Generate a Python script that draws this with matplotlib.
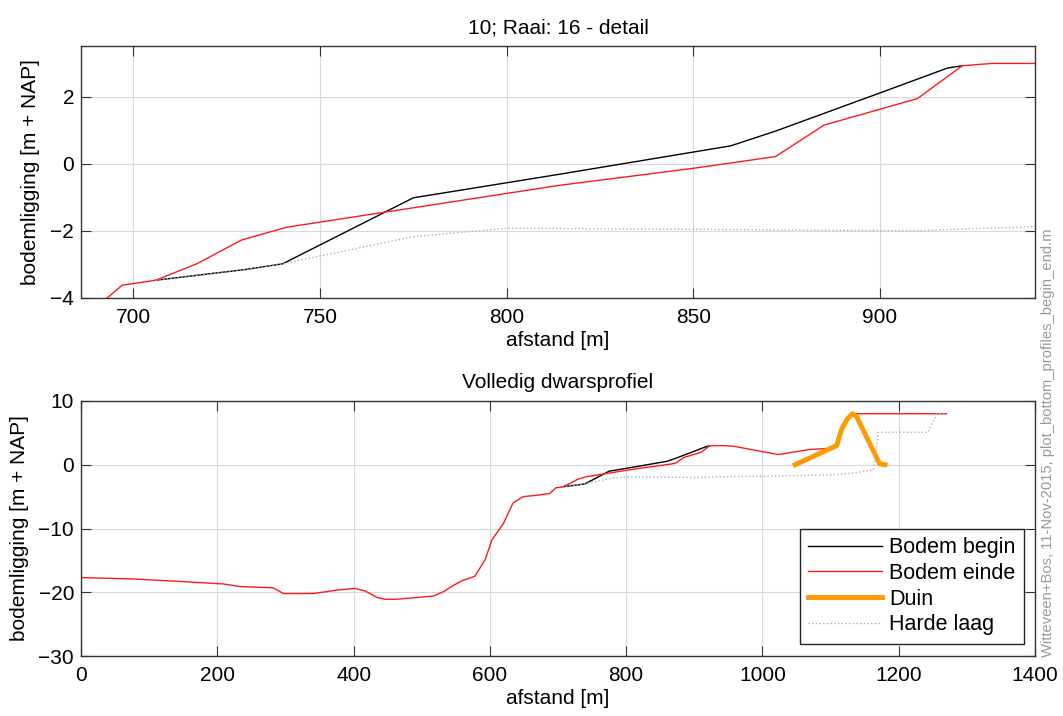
import numpy as np
import matplotlib.pyplot as plt

# Bodem begin (zwart)
begin_x = [706, 730, 740, 775, 814, 860, 872, 900, 918, 922]
begin_y = [-3.47, -3.15, -2.98, -1.01, -0.31, 0.54, 0.98, 2.12, 2.86, 2.93]

# Bodem einde (rood) - volledig profiel
einde_x = [0, 72, 145, 209, 233, 282, 297, 341, 380, 402, 417, 434, 446, 463,
           517, 532, 547, 559, 578, 593, 603, 620, 634, 649, 668, 688, 693, 697,
           706, 717, 729, 741, 814, 850, 872, 885, 910, 922, 930, 943, 958,
           1023, 1070, 1104, 1109, 1121, 1131, 1270]
einde_y = [-17.7, -17.9, -18.3, -18.7, -19.1, -19.3, -20.2, -20.2, -19.6, -19.4,
           -19.8, -20.8, -21.1, -21.1, -20.6, -19.9, -18.9, -18.2, -17.5, -14.9,
           -11.8, -9.2, -6.0, -5.0, -4.8, -4.5, -4.0, -3.62, -3.47, -2.98, -2.27,
           -1.89, -0.64, -0.13, 0.22, 1.16, 1.95, 2.93, 3.0, 3.0, 2.9,
           1.6, 2.4, 2.6, 3.1, 6.8, 8.0, 8.0]

# Duin (oranje)
duin_x = [1048, 1109, 1116, 1124, 1132, 1138, 1172, 1180]
duin_y = [0.0, 3.0, 5.5, 7.1, 8.0, 7.6, 0.15, 0.0]

# Harde laag (grijs, gestippeld)
hard_x = [706, 730, 740, 775, 800, 850, 900, 910, 942, 1000, 1100, 1133, 1163,
          1170, 1243, 1256, 1270]
hard_y = [-3.47, -3.15, -2.98, -2.17, -1.92, -1.95, -1.99, -1.99, -1.87, -1.8,
          -1.6, -1.3, -0.8, 5.1, 5.1, 8.0, 8.0]

plt.rcParams['font.family'] = 'Liberation Sans'
fig = plt.figure(figsize=(10.63, 7.16), dpi=100)
ax1 = fig.add_axes([81 / 1063, 1 - 298 / 716, 954 / 1063, 252 / 716])
ax2 = fig.add_axes([81 / 1063, 1 - 656 / 716, 954 / 1063, 255 / 716])


def style(ax):
    ax.grid(True, color='#d9d9d9', lw=0.8)
    ax.set_axisbelow(True)
    ax.tick_params(direction='in', top=True, right=True, labelsize=15,
                   length=7, color='#333333')
    ax.tick_params(axis='x', pad=7)
    ax.tick_params(axis='y', pad=5)
    for s in ax.spines.values():
        s.set_color('#333333')
        s.set_linewidth(1.0)
    ax.set_xlabel('afstand [m]', fontsize=15, labelpad=3)
    ax.set_ylabel('bodemligging [m + NAP]', fontsize=15, labelpad=7)


for ax in (ax1, ax2):
    ax.plot(begin_x, begin_y, color='black', lw=1.0, label='Bodem begin')
    ax.plot(einde_x, einde_y, color='#ff1a1a', lw=1.0, label='Bodem einde')
    ax.plot(duin_x, duin_y, color='#ff9900', lw=3.5, label='Duin')
    ax.plot(hard_x, hard_y, color='#b0b0b0', lw=1.0, ls=':', label='Harde laag')
    style(ax)

ax1.set_xlim(686, 941.5)
ax1.set_ylim(-4, 3.52)
ax1.set_xticks([700, 750, 800, 850, 900])
ax1.set_yticks([-4, -2, 0, 2])
ax1.set_title('10; Raai: 16 - detail', fontsize=15, pad=9)

ax2.set_xlim(0, 1400)
ax2.set_ylim(-30, 10)
ax2.set_xticks([0, 200, 400, 600, 800, 1000, 1200, 1400])
ax2.set_yticks([-30, -20, -10, 0, 10])
ax2.set_title('Volledig dwarsprofiel', fontsize=15, pad=9)
leg = ax2.legend(loc='lower right', fontsize=15.5, handlelength=3.4,
                 handletextpad=0.35, fancybox=False, framealpha=1,
                 edgecolor='#222222', borderpad=0.4, labelspacing=0.22,
                 borderaxespad=0, bbox_to_anchor=(0.9885, 0.047))
leg.get_frame().set_linewidth(1.0)

fig.text(1048 / 1063, 1 - 657 / 716,
         'Witteveen+Bos, 11-Nov-2015, plot_bottom_profiles_begin_end.m',
         rotation=90, fontsize=10.6, color='#999999', ha='center', va='bottom')

fig.savefig('out.png', dpi=100)
